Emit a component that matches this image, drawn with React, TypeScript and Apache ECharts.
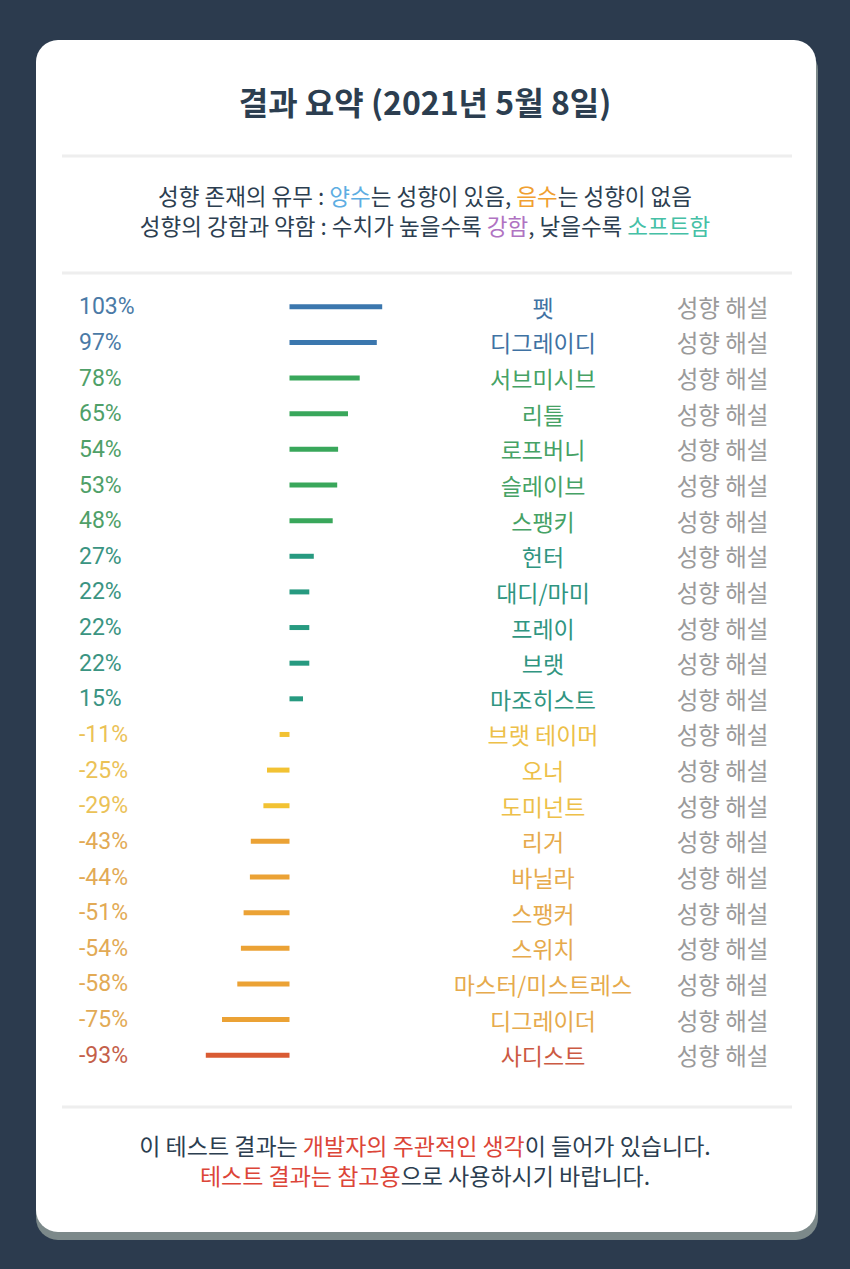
import React, { useEffect, useRef } from "react";
import * as echarts from "echarts";

const names = ["펫", "디그레이디", "서브미시브", "리틀", "로프버니", "슬레이브", "스팽키", "헌터", "대디/마미", "프레이", "브랫", "마조히스트", "브랫 테이머", "오너", "도미넌트", "리거", "바닐라", "스팽커", "스위치", "마스터/미스트레스", "디그레이더", "사디스트"];
const values = [103, 97, 78, 65, 54, 53, 48, 27, 22, 22, 22, 15, -11, -25, -29, -43, -44, -51, -54, -58, -75, -93];
const tiers = ["blue", "blue", "green", "green", "green", "green", "green", "teal", "teal", "teal", "teal", "teal", "yellow", "yellow", "yellow", "orange", "orange", "orange", "orange", "orange", "orange", "red"];
const linkLabel = "성향 해설";

const barColors: Record<string, string> = {
  blue: "#3b77ae",
  green: "#39a75b",
  teal: "#279a80",
  yellow: "#f2c233",
  orange: "#eba235",
  red: "#d95b33",
};
const textColors: Record<string, string> = {
  blue: "#4a7aa6",
  green: "#4fa068",
  teal: "#3a9482",
  yellow: "#ebc257",
  orange: "#e2aa55",
  red: "#c45f4a",
};
const nameColors: Record<string, string> = {
  blue: "#3f72a3",
  green: "#46a265",
  teal: "#309581",
  yellow: "#edc048",
  orange: "#e6aa4c",
  red: "#cc5a43",
};

const KR = "'Noto Sans CJK KR', 'Noto Sans', sans-serif";

export default function App() {
  const ref = useRef<HTMLDivElement>(null);
  useEffect(() => {
    document.body.style.margin = "0";
    const chart = echarts.init(ref.current!, null, { renderer: "svg" });
    const pctLabels = values.map((v) => `${v}%`);
    const rs = (fill: string, size: number) => ({ fill, fontFamily: KR, fontSize: size, lineHeight: 30 });
    const option: any = {
      animation: false,
      backgroundColor: "#2c3b4e",
      grid: { left: 109.5, width: 360, top: 289, height: 784 },
      xAxis: {
        type: "value",
        min: -200,
        max: 200,
        axisLine: { show: false },
        axisTick: { show: false },
        axisLabel: { show: false },
        splitLine: { show: false },
      },
      yAxis: [
        {
          type: "category",
          inverse: true,
          data: pctLabels,
          position: "left",
          axisLine: { show: false },
          axisTick: { show: false },
          axisLabel: {
            interval: 0,
            align: "left",
            margin: 30.5,
            fontSize: 23,
            fontFamily: "Roboto, 'Noto Sans', sans-serif",
            color: (_v: any, i: number) => textColors[tiers[i]],
          },
        },
        {
          type: "category",
          inverse: true,
          data: names,
          position: "right",
          axisLine: { show: false },
          axisTick: { show: false },
          axisLabel: {
            interval: 0,
            align: "center",
            margin: 73.5,
            fontSize: 23,
            fontFamily: KR,
            color: (_v: any, i: number) => nameColors[tiers[i]],
          },
        },
        {
          type: "category",
          inverse: true,
          data: names.map(() => linkLabel),
          position: "right",
          axisLine: { show: false },
          axisTick: { show: false },
          axisLabel: {
            interval: 0,
            align: "center",
            margin: 253,
            fontSize: 23.5,
            fontFamily: KR,
            color: "#9a9a9a",
          },
        },
      ],
      series: [
        {
          type: "bar",
          yAxisIndex: 0,
          barWidth: 5,
          data: values.map((v, i) => ({ value: v, itemStyle: { color: barColors[tiers[i]] } })),
          z: 5,
        },
      ],
      graphic: [
        { type: "rect", z: -20, shape: { x: 36, y: 48, width: 782, height: 1192, r: 22 }, style: { fill: "#7c898a" } },
        { type: "rect", z: -19, shape: { x: 36, y: 40, width: 780, height: 1192, r: 22 }, style: { fill: "#ffffff" } },
        { type: "rect", z: -18, shape: { x: 62, y: 154.5, width: 730, height: 3 }, style: { fill: "#eeeeee" } },
        { type: "rect", z: -18, shape: { x: 62, y: 271.5, width: 730, height: 3 }, style: { fill: "#eeeeee" } },
        { type: "rect", z: -18, shape: { x: 62, y: 1105.5, width: 730, height: 3 }, style: { fill: "#eeeeee" } },
        {
          type: "text",
          z: 10,
          x: 425,
          y: 101,
          style: {
            text: "결과 요약 (2021년 5월 8일)",
            fontFamily: KR,
            fontWeight: "bold",
            fontSize: 32,
            fill: "#2c3e50",
            align: "center",
            verticalAlign: "middle",
          },
        },
        {
          type: "text",
          z: 10,
          x: 425,
          y: 210,
          style: {
            text:
              "{d|성향 존재의 유무 : }{b|양수}{d|는 성향이 있음, }{o|음수}{d|는 성향이 없음}\n{d|성향의 강함과 약함 : 수치가 높을수록 }{p|강함}{d|, 낮을수록 }{t|소프트함}",
            align: "center",
            verticalAlign: "middle",
            fontFamily: KR,
            fontSize: 22.5,
            lineHeight: 30,
            rich: {
              d: rs("#2c3e50", 22.5),
              b: rs("#5dade2", 22.5),
              o: rs("#f0a030", 22.5),
              p: rs("#b073c2", 22.5),
              t: rs("#45c0a6", 22.5),
            },
          },
        },
        {
          type: "text",
          z: 10,
          x: 425,
          y: 1160,
          style: {
            text:
              "{d|이 테스트 결과는 }{r|개발자의 주관적인 생각}{d|이 들어가 있습니다.}\n{r|테스트 결과는 참고용}{d|으로 사용하시기 바랍니다.}",
            align: "center",
            verticalAlign: "middle",
            fontFamily: KR,
            fontSize: 23,
            lineHeight: 30,
            rich: {
              d: rs("#2c3e50", 23),
              r: rs("#dc4538", 23),
            },
          },
        },
      ],
    };
    chart.setOption(option);
    return () => chart.dispose();
  }, []);
  return <div ref={ref} style={{ width: 850, height: 1269 }} />;
}
